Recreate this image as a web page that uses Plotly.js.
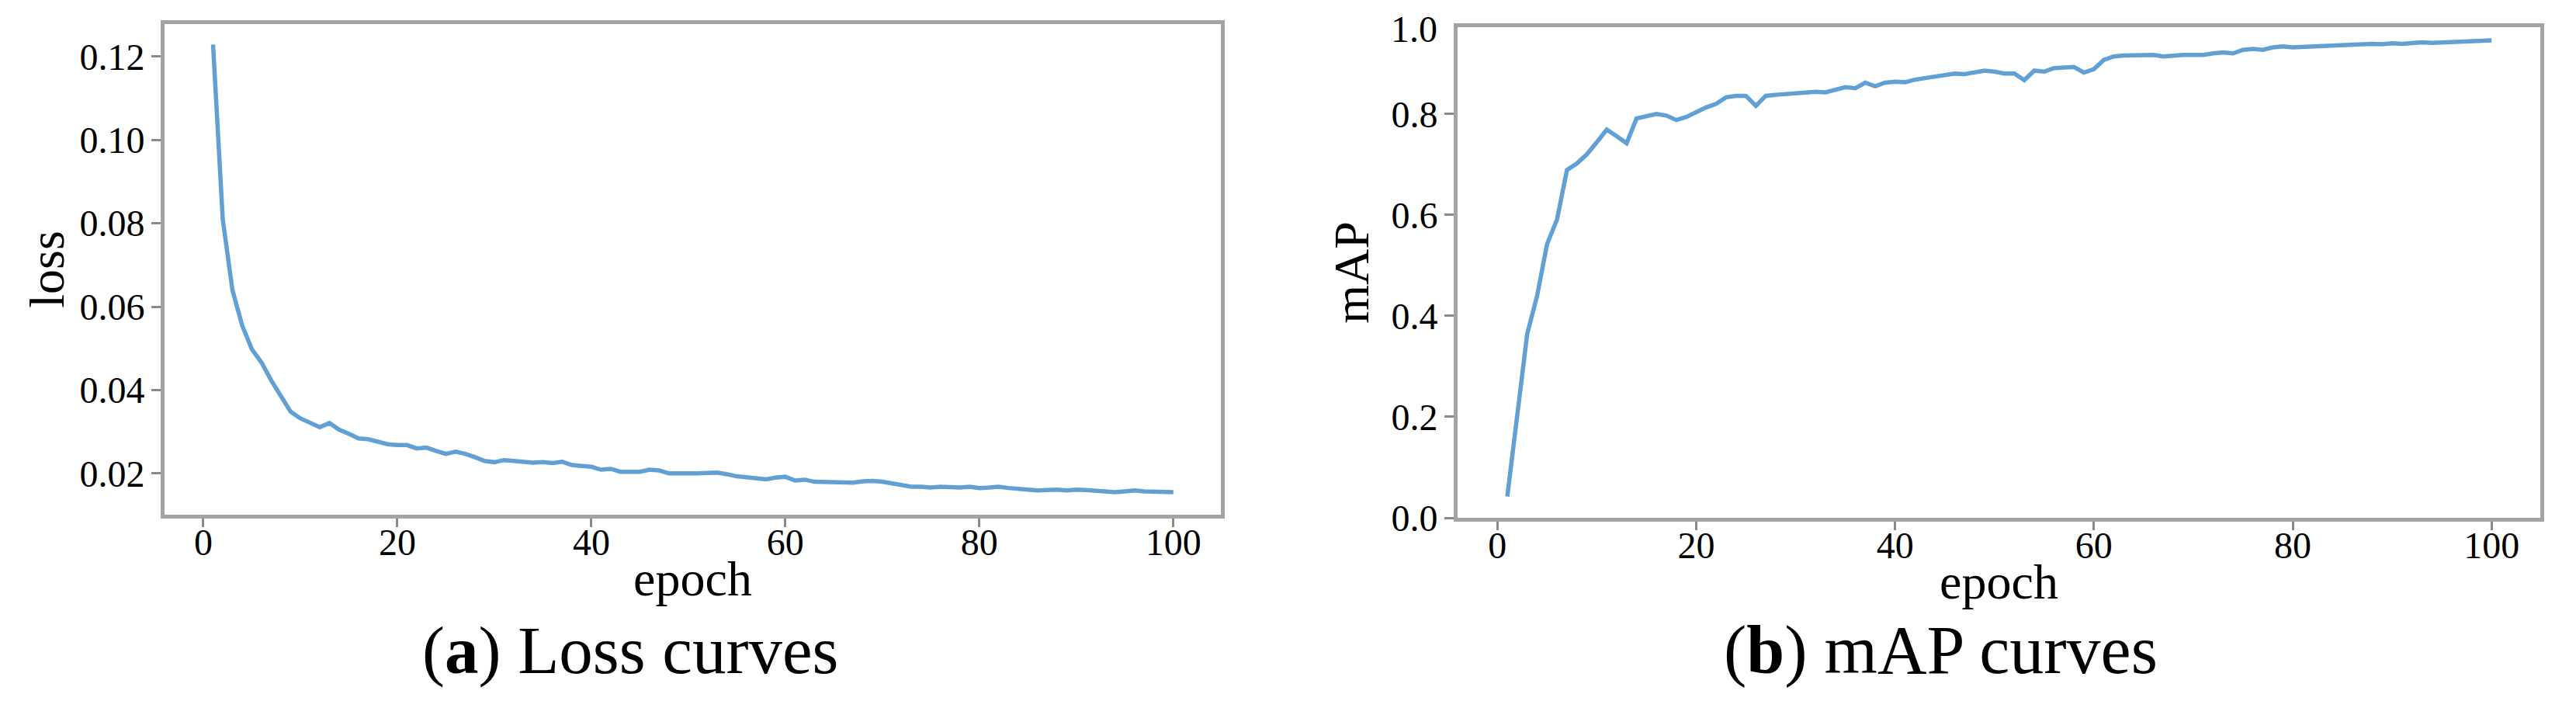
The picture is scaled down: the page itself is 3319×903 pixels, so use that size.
<!DOCTYPE html>
<html>
<head>
<meta charset="utf-8">
<script src="https://cdn.plot.ly/plotly-3.0.1.min.js"></script>
<style>
  html, body { margin: 0; padding: 0; background: #fff; }
  #trainCurves { width: 3319px; height: 903px; }
</style>
</head>
<body>
<div id="trainCurves"></div>
<script>
/*--------------------------------------------------------------------------
    data
--------------------------------------------------------------------------*/
var epochs = [1, 2, 3, 4, 5, 6, 7, 8, 9, 10,
    11, 12, 13, 14, 15, 16, 17, 18, 19, 20,
    21, 22, 23, 24, 25, 26, 27, 28, 29, 30,
    31, 32, 33, 34, 35, 36, 37, 38, 39, 40,
    41, 42, 43, 44, 45, 46, 47, 48, 49, 50,
    51, 52, 53, 54, 55, 56, 57, 58, 59, 60,
    61, 62, 63, 64, 65, 66, 67, 68, 69, 70,
    71, 72, 73, 74, 75, 76, 77, 78, 79, 80,
    81, 82, 83, 84, 85, 86, 87, 88, 89, 90,
    91, 92, 93, 94, 95, 96, 97, 98, 99, 100];

var lossValues = [0.1229, 0.0810, 0.0640, 0.0555, 0.0498, 0.0466, 0.0423, 0.0386, 0.0348, 0.0332,
    0.0321, 0.0311, 0.0321, 0.0305, 0.0295, 0.0284, 0.0282, 0.0276, 0.0270, 0.0268,
    0.0268, 0.0260, 0.0262, 0.0254, 0.0247, 0.0252, 0.0247, 0.0239, 0.0230, 0.0227,
    0.0232, 0.0230, 0.0228, 0.0226, 0.0227, 0.0225, 0.0228, 0.0220, 0.0218, 0.0216,
    0.0209, 0.0211, 0.0204, 0.0205, 0.0204, 0.0209, 0.0207, 0.0200, 0.0200, 0.0198,
    0.0200, 0.0201, 0.0202, 0.0198, 0.0193, 0.0191, 0.0188, 0.0186, 0.0190, 0.0192,
    0.0183, 0.0185, 0.0180, 0.0180, 0.0178, 0.0180, 0.0178, 0.0181, 0.0182, 0.0180,
    0.0176, 0.0170, 0.0168, 0.0168, 0.0166, 0.0168, 0.0167, 0.0166, 0.0168, 0.0165,
    0.0166, 0.0168, 0.0165, 0.0164, 0.0161, 0.0159, 0.0160, 0.0161, 0.0159, 0.0161,
    0.0160, 0.0158, 0.0157, 0.0155, 0.0157, 0.0159, 0.0157, 0.0157, 0.0156, 0.0155];

var mapValues = [0.042, 0.200, 0.364, 0.440, 0.542, 0.591, 0.689, 0.702, 0.720, 0.744,
    0.769, 0.756, 0.742, 0.791, 0.796, 0.800, 0.797, 0.788, 0.794, 0.804,
    0.813, 0.820, 0.833, 0.836, 0.836, 0.816, 0.836, 0.838, 0.840, 0.840,
    0.842, 0.844, 0.843, 0.849, 0.853, 0.851, 0.862, 0.855, 0.862, 0.864,
    0.863, 0.868, 0.871, 0.876, 0.878, 0.880, 0.879, 0.883, 0.886, 0.884,
    0.880, 0.880, 0.867, 0.886, 0.884, 0.891, 0.892, 0.893, 0.882, 0.889,
    0.907, 0.914, 0.916, 0.916, 0.917, 0.917, 0.914, 0.916, 0.917, 0.917,
    0.917, 0.920, 0.922, 0.920, 0.927, 0.929, 0.927, 0.932, 0.934, 0.932,
    0.933, 0.934, 0.935, 0.936, 0.936, 0.938, 0.938, 0.939, 0.938, 0.940,
    0.939, 0.941, 0.942, 0.941, 0.942, 0.943, 0.944, 0.943, 0.945, 0.946];

var epochTicks = [0, 20, 40, 60, 80, 100];
var lossTicks = [0.02, 0.04, 0.06, 0.08, 0.10, 0.12];
var mapTicks = [0.0, 0.2, 0.4, 0.6, 0.8];

var captionA = '(<b>a</b>) Loss curves';
var captionB = '(<b>b</b>) mAP curves';

/*--------------------------------------------------------------------------
    helpers: page pixels -> paper fractions
--------------------------------------------------------------------------*/
var W = 3319, H = 903;
function px(x) { return x / W; }
function py(y) { return 1 - y / H; }

var serif = '"Liberation Serif", "Times New Roman", serif';
var lineBlue = 'rgb(96, 160, 212)';
var frameGrey = '#a3a3a3';

function xAxis(left, right, anchor) {
    return {
        domain: [px(left), px(right)],
        anchor: anchor,
        range: [-4, 104.9],
        tickvals: epochTicks,
        ticks: 'outside',
        ticklen: 11,
        tickwidth: 3,
        tickcolor: '#8a8a8a',
        ticklabelstandoff: -22,
        showline: true,
        mirror: true,
        linewidth: 5,
        linecolor: frameGrey,
        showgrid: false,
        zeroline: false,
        tickfont: {family: serif, size: 48, color: '#000'},
        title: {text: 'epoch', standoff: 0, font: {family: serif, size: 64, color: '#000'}}
    };
}

function yAxis(top, bottom, anchor, range, ticks, fmt, label, titleGap) {
    return {
        domain: [py(bottom), py(top)],
        anchor: anchor,
        range: range,
        tickvals: ticks,
        tickformat: fmt,
        ticks: 'outside',
        ticklen: 12,
        tickwidth: 3,
        tickcolor: '#8a8a8a',
        ticklabelstandoff: -1,
        showline: true,
        mirror: true,
        linewidth: 5,
        linecolor: frameGrey,
        showgrid: false,
        zeroline: false,
        tickfont: {family: serif, size: 48, color: '#000'},
        title: {text: label, standoff: titleGap, font: {family: serif, size: 64, color: '#000'}}
    };
}

//the two curves
var lossTrace = {
    x: epochs,
    y: lossValues,
    xaxis: 'x',
    yaxis: 'y',
    type: 'scatter',
    mode: 'lines',
    line: {color: lineBlue, width: 5.5},
    showlegend: false
};

var mapTrace = {
    x: epochs,
    y: mapValues,
    xaxis: 'x2',
    yaxis: 'y2',
    type: 'scatter',
    mode: 'lines',
    line: {color: lineBlue, width: 5.5},
    showlegend: false
};

var layout = {
    width: W,
    height: H,
    margin: {l: 0, r: 0, t: 0, b: 0},
    paper_bgcolor: '#fff',
    plot_bgcolor: '#fff',
    font: {family: serif, color: '#000'},
    showlegend: false,
    xaxis: xAxis(212, 1573, 'y'),
    yaxis: yAxis(31, 663, 'x', [0.0101, 0.1278], lossTicks, '.2f', 'loss', 1),
    xaxis2: xAxis(1878, 3273, 'y2'),
    yaxis2: yAxis(35, 667, 'x2', [0, 0.972], mapTicks, '.1f', 'mAP', 10),
    annotations: [
        // top label of the mAP axis sits just under the frame corner in the original
        {text: '1.0', xref: 'paper', yref: 'paper', x: px(1854), y: py(37),
            xanchor: 'right', yanchor: 'middle', showarrow: false,
            font: {family: serif, size: 48, color: '#000'}},
        {text: captionA, xref: 'paper', yref: 'paper', x: px(812), y: py(837),
            xanchor: 'center', yanchor: 'middle', showarrow: false,
            font: {family: serif, size: 87, color: '#000'}},
        {text: captionB, xref: 'paper', yref: 'paper', x: px(2500), y: py(837),
            xanchor: 'center', yanchor: 'middle', showarrow: false,
            font: {family: serif, size: 88, color: '#000'}}
    ]
};

Plotly.newPlot('trainCurves', [lossTrace, mapTrace], layout, {staticPlot: true});
</script>
</body>
</html>
